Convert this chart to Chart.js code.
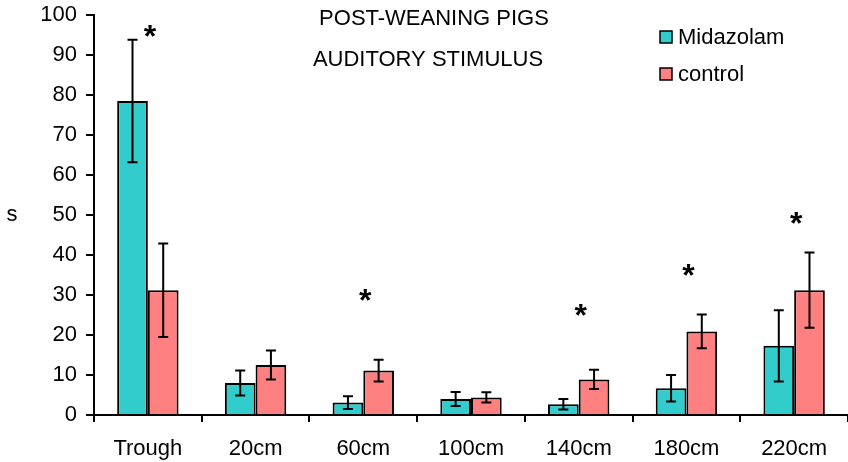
<!DOCTYPE html>
<html>
<head>
<meta charset="utf-8">
<script src="https://cdn.jsdelivr.net/npm/chart.js@4"></script>
<style>
  html, body { margin: 0; padding: 0; background: #fff; }
  #wrap { width: 848px; height: 462px; }
</style>
</head>
<body>
<div id="wrap"><canvas id="chart"></canvas></div>
<script>
const categories = ['Trough', '20cm', '60cm', '100cm', '140cm', '180cm', '220cm'];
const midazolam = [78.5, 8, 3.1, 4, 2.7, 6.7, 17.3];
const midazolamErr = [15.3, 3.1, 1.6, 1.75, 1.3, 3.3, 8.9];
const control = [31.2, 12.5, 11.1, 4.4, 8.9, 20.9, 31.2];
const controlErr = [11.7, 3.6, 2.7, 1.3, 2.4, 4.2, 9.4];
// asterisks: category index and height (in s) where they sit
const starIndex = [0, 2, 4, 5, 6];
const starValue = [95.5, 29.5, 25.7, 35.7, 48.7];
const titleLines = ['POST-WEANING PIGS', 'AUDITORY STIMULUS'];

const FONT = '"Liberation Sans", Arial, sans-serif';
const errs = [midazolamErr, controlErr];

const extras = {
    id: 'extras',
    afterDatasetsDraw(chart) {
        const ctx = chart.ctx;
        const y = chart.scales.y;
        const x = chart.scales.x;
        ctx.save();
        ctx.strokeStyle = '#000';
        ctx.lineWidth = 2;
        chart.data.datasets.forEach((ds, i) => {
            chart.getDatasetMeta(i).data.forEach((bar, j) => {
                const v = ds.data[j], e = errs[i][j];
                const top = y.getPixelForValue(v + e), bot = y.getPixelForValue(v - e);
                ctx.beginPath();
                ctx.moveTo(bar.x, top); ctx.lineTo(bar.x, bot);
                ctx.moveTo(bar.x - 5, top); ctx.lineTo(bar.x + 5, top);
                ctx.moveTo(bar.x - 5, bot); ctx.lineTo(bar.x + 5, bot);
                ctx.stroke();
            });
        });

        ctx.fillStyle = '#000';
        ctx.textAlign = 'center';
        ctx.textBaseline = 'middle';
        ctx.font = 'bold 32px ' + FONT;
        starIndex.forEach((c, k) => {
            ctx.fillText('*', x.getPixelForValue(c) + 2, y.getPixelForValue(starValue[k]) + 5);
        });

        ctx.font = '22px ' + FONT;
        ctx.fillText(titleLines[0], 434, 19);
        ctx.fillText(titleLines[1], 428, 60);

        ctx.fillText('s', 12, 215);

        // legend
        ctx.textAlign = 'left';
        chart.data.datasets.forEach((ds, i) => {
            const ly = 37 + i * 37;
            ctx.fillStyle = ds.backgroundColor;
            ctx.fillRect(660, ly - 6, 12, 12);
            ctx.lineWidth = 1.5;
            ctx.strokeRect(660, ly - 6, 12, 12);
            ctx.fillStyle = '#000';
            ctx.fillText(ds.label, 678, ly + 1);
        });
        ctx.restore();
    }
};

new Chart(document.getElementById('chart'), {
    type: 'bar',
    data: {
        labels: categories,
        datasets: [{
            label: 'Midazolam',
            data: midazolam,
            backgroundColor: '#33CCCC',
            borderColor: '#000',
            borderWidth: 2,
            borderSkipped: 'bottom',
        }, {
            label: 'control',
            data: control,
            backgroundColor: '#FF8080',
            borderColor: '#000',
            borderWidth: 2,
            borderSkipped: 'bottom',
        }],
    },
    options: {
        responsive: true,
        maintainAspectRatio: false,
        animation: false,
        datasets: { bar: { categoryPercentage: 0.57, barPercentage: 1 } },
        layout: { padding: { top: 15, right: 0, left: 0, bottom: 0 } },
        plugins: { legend: { display: false }, title: { display: false }, tooltip: { enabled: false } },
        scales: {
            x: {
                grid: { drawOnChartArea: false, drawTicks: true, tickLength: 7, color: '#000', lineWidth: 2, offset: true },
                border: { color: '#000', width: 2 },
                ticks: { color: '#000', font: { family: FONT, size: 22 }, padding: 14, maxRotation: 0 },
                afterFit(s) { s.height = 47; s.paddingLeft = 0; s.paddingRight = 0; },
            },
            y: {
                min: 0, max: 100,
                grid: { drawOnChartArea: false, drawTicks: true, tickLength: 8, color: '#000', lineWidth: 2 },
                border: { color: '#000', width: 2 },
                ticks: { stepSize: 10, color: '#000', font: { family: FONT, size: 22 }, padding: 9 },
                afterFit(s) { s.width = 94; s.paddingTop = 0; s.paddingBottom = 0; },
            },
        },
    },
    plugins: [extras],
});
</script>
</body>
</html>
